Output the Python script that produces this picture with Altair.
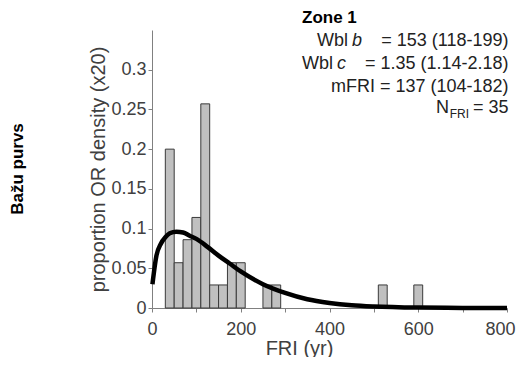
import altair as alt
import pandas as pd

# Histogram bins (FRI, years) and proportions
bin_start = [30, 50, 70, 90, 110, 130, 150, 170, 190, 250, 270, 510, 590]
bin_end = [50, 70, 90, 110, 130, 150, 170, 190, 210, 270, 290, 530, 610]
proportion = [0.2, 0.057, 0.086, 0.114, 0.257, 0.029, 0.029, 0.057, 0.057,
              0.029, 0.029, 0.029, 0.029]

# Fitted density curve (x20)
curve_x = [1, 10, 20, 30, 40, 55, 70, 85, 100, 125, 150, 175, 200, 250, 300,
           350, 400, 450, 500, 600, 700, 800]
curve_y = [0.030, 0.066, 0.081, 0.089, 0.094, 0.096, 0.095, 0.091, 0.087,
           0.077, 0.066, 0.056, 0.046, 0.030, 0.019, 0.011, 0.0064, 0.0035,
           0.0019, 0.0005, 0.0001, 0.0]

x_ticks = [0, 50, 100, 150, 200, 250, 300, 350, 400, 450, 500, 550, 600, 650,
           700, 750, 800]
y_ticks = [0, 0.05, 0.1, 0.15, 0.2, 0.25, 0.3]

bars_df = pd.DataFrame({"start": bin_start, "end": bin_end, "p": proportion})
curve_df = pd.DataFrame({"x": curve_x, "y": curve_y})

FONT = "Liberation Sans"
AX_COL = "#808080"
TXT_COL = "#404040"

xscale = alt.Scale(domain=[0, 800], nice=False, zero=False)
yscale = alt.Scale(domain=[0, 0.35], nice=False)

xaxis = alt.Axis(
    values=x_ticks, title="FRI (yr)",
    labelExpr="datum.value % 200 == 0 ? datum.label : ''",
    labelOffset=alt.ExprRef("datum.value == 800 ? -7 : 0"),
    grid=False, domainColor=AX_COL, tickColor=AX_COL, tickSize=4,
    labelFont=FONT, labelFontSize=18, labelColor=TXT_COL,
    labelBaseline="middle", labelPadding=17, labelFlush=False,
    titleFont=FONT, titleFontSize=20, titleFontWeight="normal", titleColor=TXT_COL,
    titleX=147, titleY=40, titleBaseline="middle", titleAnchor="start", titleAlign="center",
)
yaxis = alt.Axis(
    values=y_ticks, title="proportion OR density (x20)", format="~g",
    grid=False, domainColor=AX_COL, tickColor=AX_COL, tickSize=4,
    labelFont=FONT, labelFontSize=18, labelColor=TXT_COL, labelPadding=2,
    labelFlush=False,
    titleFont=FONT, titleFontSize=20, titleFontWeight="normal", titleColor=TXT_COL,
    titleX=-54, titleY=139, titleAngle=270, titleBaseline="middle", titleAlign="center",
)

bars = alt.Chart(bars_df).mark_rect(
    fill="#c0c0c0", stroke="#3a3a3a", strokeWidth=1
).encode(
    x=alt.X("start:Q", scale=xscale, axis=xaxis),
    x2="end:Q",
    y=alt.Y("p:Q", scale=yscale, axis=yaxis),
    y2=alt.datum(0),
)

curve = alt.Chart(curve_df).mark_line(
    color="black", strokeWidth=4.5, interpolate="monotone"
).encode(
    x=alt.X("x:Q", scale=xscale),
    y=alt.Y("y:Q", scale=yscale),
)


def txt(text, x, y, size=18, weight="normal", style="normal", align="left",
        angle=0, color="#222222", baseline="middle"):
    return alt.Chart(pd.DataFrame({"t": [text]})).mark_text(
        font=FONT, fontSize=size, fontWeight=weight, fontStyle=style,
        align=align, baseline=baseline, angle=angle, color=color,
    ).encode(text="t:N", x=alt.value(x), y=alt.value(y))


RIGHT = 356.5
texts = [
    txt("Zone 1", 150, -12, size=17, weight="bold", color="black"),
    txt("Wbl", 196, 11, align="right"),
    txt("b", 200, 11, style="italic"),
    txt("= 153 (118-199)", RIGHT, 11, align="right"),
    txt("Wbl", 181, 33.5, align="right"),
    txt("c", 185, 33.5, style="italic"),
    txt("= 1.35 (1.14-2.18)", RIGHT, 33.5, align="right"),
    txt("mFRI = 137 (104-182)", RIGHT, 56.5, align="right"),
    txt("N", 297, 78, align="right"),
    txt("FRI", 317, 84, size=12, align="right"),
    txt("= 35", RIGHT, 78, align="right"),
    txt("Bažu purvs", -134, 139, size=17, weight="bold", angle=270, color="black",
        align="center"),
]

chart = alt.layer(bars, curve, *texts).properties(
    width=355, height=278,
    autosize=alt.AutoSizeParams(type="none"),
    padding={"left": 144, "top": 22, "right": 9, "bottom": 49},
).configure_view(stroke=None)

chart.save("out.html", embed_options={"renderer": "svg", "actions": False})
